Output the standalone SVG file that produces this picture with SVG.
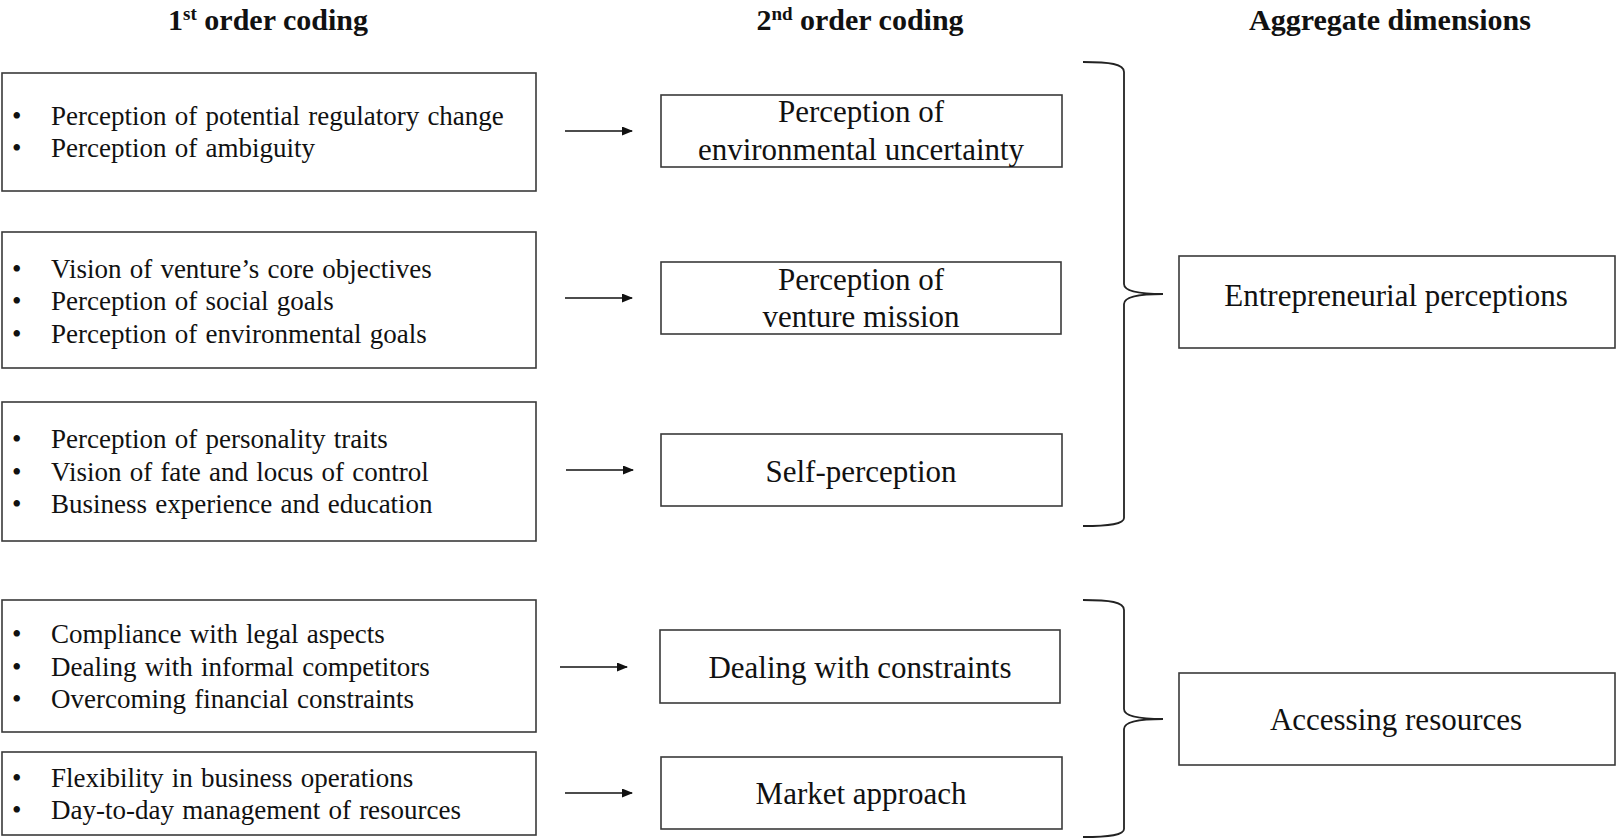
<svg xmlns="http://www.w3.org/2000/svg" width="1616" height="839" viewBox="0 0 1616 839">
<defs>
<style>
.box{fill:#fff;stroke:#3a3a3a;stroke-width:1.6}
.t{font-family:"Liberation Serif","Times New Roman",serif;fill:#111}
.hd{font-size:30px;font-weight:bold;text-anchor:middle}
.b{font-size:27px;word-spacing:1.5px}
.m{font-size:31px;text-anchor:middle}
.ln{stroke:#111;stroke-width:1.6;fill:none}
.br{stroke:#222;stroke-width:1.8;fill:none}
</style>
<marker id="ah" markerWidth="11" markerHeight="9" refX="10" refY="4.5" orient="auto" markerUnits="userSpaceOnUse">
<path d="M0,0 L11,4.5 L0,9 Z" fill="#111"/>
</marker>
</defs>
<rect width="1616" height="839" fill="#fff"/>

<g id="headers">
<text class="t hd" x="268" y="30">1<tspan font-size="19" dy="-10">st</tspan><tspan dy="10"> order coding</tspan></text>
<text class="t hd" x="860" y="30">2<tspan font-size="19" dy="-10">nd</tspan><tspan dy="10"> order coding</tspan></text>
<text class="t hd" x="1390" y="30">Aggregate dimensions</text>
</g>

<g id="first1">
<rect class="box" x="2" y="73" width="534" height="118"/>
<text class="t b" x="12" y="125">•</text><text class="t b" x="51" y="125">Perception of potential regulatory change</text>
<text class="t b" x="12" y="157">•</text><text class="t b" x="51" y="157">Perception of ambiguity</text>
</g>
<g id="first2">
<rect class="box" x="2" y="232" width="534" height="136"/>
<text class="t b" x="12" y="278">•</text><text class="t b" x="51" y="278">Vision of venture’s core objectives</text>
<text class="t b" x="12" y="310">•</text><text class="t b" x="51" y="310">Perception of social goals</text>
<text class="t b" x="12" y="343">•</text><text class="t b" x="51" y="343">Perception of environmental goals</text>
</g>
<g id="first3">
<rect class="box" x="2" y="402" width="534" height="139"/>
<text class="t b" x="12" y="448">•</text><text class="t b" x="51" y="448">Perception of personality traits</text>
<text class="t b" x="12" y="481">•</text><text class="t b" x="51" y="481">Vision of fate and locus of control</text>
<text class="t b" x="12" y="513">•</text><text class="t b" x="51" y="513">Business experience and education</text>
</g>
<g id="first4">
<rect class="box" x="2" y="600" width="534" height="132"/>
<text class="t b" x="12" y="643">•</text><text class="t b" x="51" y="643">Compliance with legal aspects</text>
<text class="t b" x="12" y="676">•</text><text class="t b" x="51" y="676">Dealing with informal competitors</text>
<text class="t b" x="12" y="708">•</text><text class="t b" x="51" y="708">Overcoming financial constraints</text>
</g>
<g id="first5">
<rect class="box" x="2" y="752" width="534" height="83"/>
<text class="t b" x="12" y="787">•</text><text class="t b" x="51" y="787">Flexibility in business operations</text>
<text class="t b" x="12" y="819">•</text><text class="t b" x="51" y="819">Day-to-day management of resources</text>
</g>

<g id="second1">
<rect class="box" x="661" y="95" width="401" height="72"/>
<text class="t m" x="861" y="122">Perception of</text>
<text class="t m" x="861" y="160">environmental uncertainty</text>
</g>
<g id="second2">
<rect class="box" x="661" y="262" width="400" height="72"/>
<text class="t m" x="861" y="290">Perception of</text>
<text class="t m" x="861" y="327">venture mission</text>
</g>
<g id="second3">
<rect class="box" x="661" y="434" width="401" height="72"/>
<text class="t m" x="861" y="482">Self-perception</text>
</g>
<g id="second4">
<rect class="box" x="660" y="630" width="400" height="73"/>
<text class="t m" x="860" y="678">Dealing with constraints</text>
</g>
<g id="second5">
<rect class="box" x="661" y="757" width="401" height="72"/>
<text class="t m" x="861" y="804">Market approach</text>
</g>

<g id="aggregate1">
<rect class="box" x="1179" y="256" width="436" height="92"/>
<text class="t m" x="1396" y="306">Entrepreneurial perceptions</text>
</g>
<g id="aggregate2">
<rect class="box" x="1179" y="673" width="436" height="92"/>
<text class="t m" x="1396" y="730">Accessing resources</text>
</g>

<g id="connectors">
<line class="ln" x1="565" y1="131" x2="632" y2="131" marker-end="url(#ah)"/>
<line class="ln" x1="565" y1="298" x2="632" y2="298" marker-end="url(#ah)"/>
<line class="ln" x1="566" y1="470" x2="633" y2="470" marker-end="url(#ah)"/>
<line class="ln" x1="560" y1="667" x2="627" y2="667" marker-end="url(#ah)"/>
<line class="ln" x1="565" y1="793" x2="632" y2="793" marker-end="url(#ah)"/>
<path class="br" d="M1083,62 C1110,62 1124,64 1124,72 L1124,284 C1124,290 1135,294 1163,294 C1135,294 1124,298 1124,304 L1124,518 C1124,524 1110,526 1083,526"/>
<path class="br" d="M1083,600 C1110,600 1124,602 1124,610 L1124,709 C1124,715 1135,719 1163,719 C1135,719 1124,723 1124,729 L1124,829 C1124,835 1110,837 1083,837"/>
</g>
</svg>
